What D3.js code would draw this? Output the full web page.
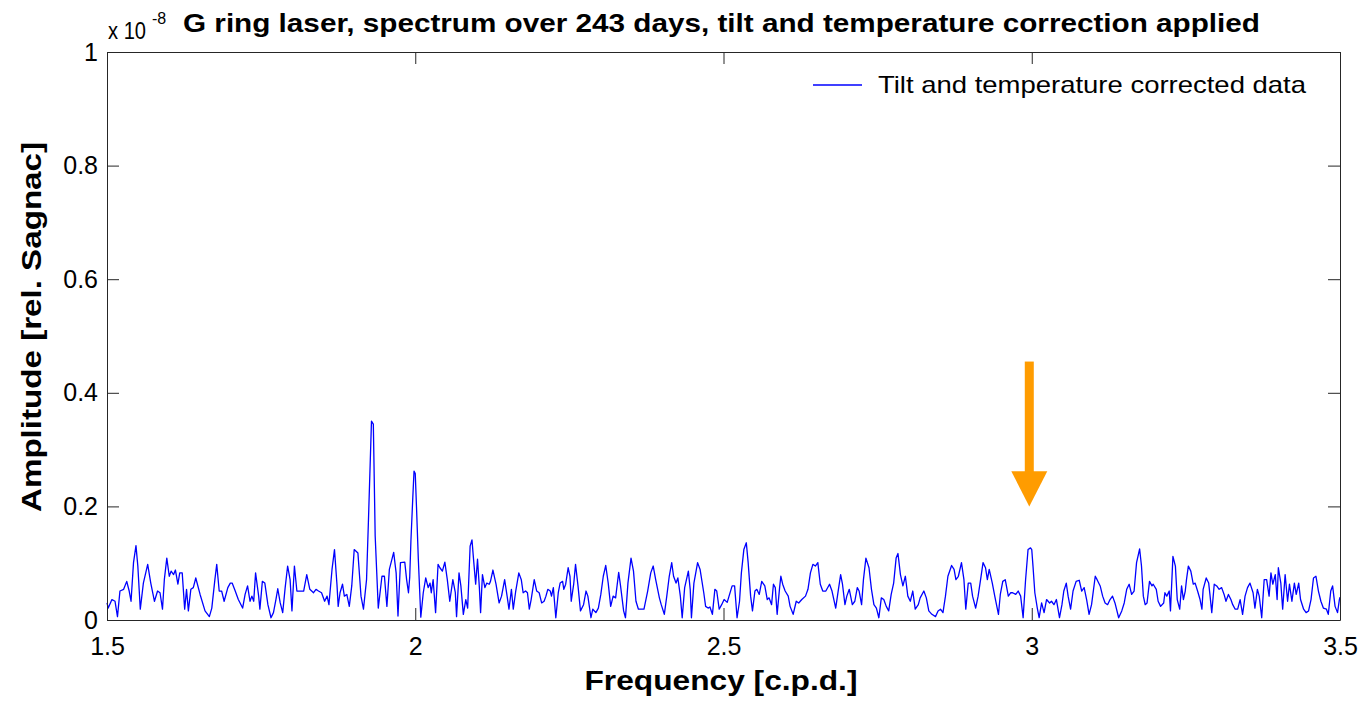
<!DOCTYPE html>
<html><head><meta charset="utf-8">
<script src="https://cdn.jsdelivr.net/npm/d3@7"></script>
<style>body{margin:0;background:#fff}svg{display:block}text{font-family:"Liberation Sans",Arial,sans-serif}</style>
</head><body><svg id="chart" width="1364" height="701"></svg>
<script>
const xTicks=[1.5,2,2.5,3,3.5];
const xTickLabels=["1.5","2","2.5","3","3.5"];
const yTicks=[0,0.2,0.4,0.6,0.8,1];
const yTickLabels=["0","0.2","0.4","0.6","0.8","1"];
const titleText="G ring laser, spectrum over 243 days, tilt and temperature correction applied";
const exponentText="x 10";
const exponentSup="-8";
const xLabel="Frequency [c.p.d.]";
const yLabel="Amplitude [rel. Sagnac]";
const legendLabel="Tilt and temperature corrected data";
// arrow annotation (frequency, amplitude from -> to)
const arrowFreq=2.996, arrowTop=0.455, arrowHead=0.262, arrowTip=0.200;
// spectrum amplitude (x 1e-8) vs frequency (c.p.d.)
const spectrum=[
[1.500,0.030],[1.502,0.021],[1.508,0.036],[1.513,0.033],[1.517,0.006],[1.521,0.051],[1.527,0.054],[1.532,0.068],[1.536,0.051],[1.539,0.033],[1.543,0.101],[1.547,0.131],[1.550,0.095],[1.554,0.019],[1.559,0.065],[1.566,0.098],[1.571,0.065],[1.577,0.033],[1.582,0.051],[1.586,0.048],[1.590,0.019],[1.593,0.071],[1.597,0.109],[1.601,0.077],[1.604,0.086],[1.608,0.080],[1.611,0.088],[1.615,0.063],[1.618,0.083],[1.622,0.083],[1.626,0.019],[1.629,0.054],[1.632,0.016],[1.636,0.054],[1.640,0.057],[1.644,0.074],[1.651,0.045],[1.659,0.016],[1.666,0.006],[1.670,0.021],[1.675,0.071],[1.678,0.098],[1.682,0.051],[1.686,0.051],[1.690,0.033],[1.696,0.057],[1.700,0.065],[1.703,0.065],[1.708,0.051],[1.713,0.036],[1.720,0.021],[1.724,0.045],[1.728,0.060],[1.732,0.033],[1.735,0.042],[1.738,0.033],[1.741,0.083],[1.746,0.042],[1.748,0.019],[1.752,0.068],[1.756,0.065],[1.761,0.027],[1.766,0.004],[1.770,0.013],[1.774,0.036],[1.777,0.055],[1.781,0.030],[1.785,0.013],[1.789,0.057],[1.793,0.095],[1.797,0.071],[1.800,0.016],[1.804,0.095],[1.808,0.051],[1.813,0.051],[1.819,0.051],[1.824,0.080],[1.829,0.054],[1.835,0.048],[1.839,0.054],[1.843,0.051],[1.848,0.048],[1.853,0.033],[1.857,0.042],[1.860,0.027],[1.865,0.089],[1.869,0.124],[1.873,0.063],[1.875,0.024],[1.878,0.048],[1.882,0.063],[1.885,0.042],[1.889,0.045],[1.893,0.024],[1.897,0.060],[1.901,0.124],[1.907,0.118],[1.912,0.042],[1.916,0.019],[1.921,0.071],[1.924,0.172],[1.929,0.350],[1.932,0.345],[1.935,0.148],[1.940,0.021],[1.946,0.077],[1.950,0.077],[1.954,0.024],[1.958,0.089],[1.965,0.119],[1.969,0.083],[1.972,0.007],[1.976,0.101],[1.983,0.102],[1.986,0.071],[1.989,0.048],[1.991,0.075],[1.993,0.140],[1.996,0.215],[1.998,0.262],[2.000,0.258],[2.002,0.200],[2.005,0.107],[2.009,0.005],
[2.013,0.048],[2.017,0.074],[2.021,0.057],[2.024,0.065],[2.026,0.048],[2.029,0.071],[2.033,0.013],[2.037,0.098],[2.040,0.092],[2.044,0.086],[2.048,0.102],[2.052,0.071],[2.056,0.033],[2.061,0.071],[2.065,0.048],[2.067,0.006],[2.071,0.083],[2.074,0.060],[2.078,0.010],[2.082,0.036],[2.085,0.021],[2.089,0.130],[2.092,0.141],[2.095,0.101],[2.098,0.063],[2.101,0.107],[2.104,0.057],[2.106,0.013],[2.109,0.080],[2.113,0.057],[2.116,0.065],[2.120,0.063],[2.122,0.068],[2.126,0.088],[2.131,0.063],[2.136,0.030],[2.140,0.042],[2.145,0.071],[2.149,0.042],[2.152,0.019],[2.156,0.054],[2.159,0.019],[2.163,0.051],[2.168,0.083],[2.172,0.071],[2.175,0.048],[2.179,0.051],[2.182,0.048],[2.185,0.019],[2.188,0.036],[2.193,0.071],[2.197,0.051],[2.201,0.048],[2.205,0.030],[2.209,0.033],[2.212,0.042],[2.215,0.054],[2.219,0.051],[2.221,0.042],[2.224,0.057],[2.228,0.004],[2.232,0.048],[2.235,0.065],[2.239,0.068],[2.241,0.054],[2.244,0.063],[2.248,0.092],[2.251,0.077],[2.253,0.033],[2.257,0.063],[2.260,0.098],[2.264,0.060],[2.268,0.016],[2.273,0.027],[2.277,0.051],[2.280,0.042],[2.285,0.004],[2.288,0.019],[2.293,0.013],[2.297,0.021],[2.301,0.045],[2.305,0.077],[2.309,0.096],[2.313,0.065],[2.317,0.024],[2.321,0.042],[2.325,0.039],[2.330,0.084],[2.333,0.060],[2.338,0.016],[2.341,0.004],[2.345,0.065],[2.350,0.109],[2.354,0.086],[2.358,0.033],[2.362,0.019],[2.366,0.019],[2.371,0.019],[2.377,0.051],[2.382,0.083],[2.386,0.095],[2.390,0.071],[2.396,0.039],[2.399,0.027],[2.404,0.010],[2.408,0.042],[2.412,0.077],[2.416,0.101],[2.419,0.077],[2.423,0.065],[2.426,0.074],[2.430,0.042],[2.433,0.004],[2.437,0.057],[2.443,0.086],[2.446,0.054],[2.448,0.004],[2.452,0.065],[2.458,0.101],[2.462,0.089],[2.468,0.048],[2.471,0.024],[2.475,0.021],[2.478,0.023],[2.482,0.010],[2.486,0.054],[2.489,0.051],[2.493,0.019],[2.497,0.027],[2.501,0.036],
[2.506,0.031],[2.509,0.042],[2.514,0.060],[2.518,0.060],[2.522,0.004],[2.526,0.033],[2.529,0.083],[2.533,0.124],[2.537,0.136],[2.540,0.101],[2.544,0.042],[2.547,0.016],[2.551,0.051],[2.554,0.054],[2.558,0.045],[2.562,0.068],[2.567,0.060],[2.571,0.036],[2.574,0.039],[2.578,0.027],[2.581,0.063],[2.584,0.057],[2.587,0.010],[2.591,0.057],[2.593,0.077],[2.596,0.063],[2.600,0.051],[2.605,0.042],[2.608,0.024],[2.613,0.010],[2.618,0.033],[2.622,0.030],[2.627,0.036],[2.633,0.042],[2.637,0.054],[2.641,0.083],[2.645,0.098],[2.649,0.095],[2.653,0.101],[2.657,0.063],[2.661,0.051],[2.666,0.051],[2.672,0.063],[2.676,0.051],[2.682,0.021],[2.686,0.051],[2.690,0.080],[2.693,0.063],[2.697,0.027],[2.700,0.042],[2.704,0.054],[2.709,0.027],[2.713,0.033],[2.717,0.057],[2.720,0.051],[2.724,0.027],[2.727,0.071],[2.731,0.109],[2.736,0.092],[2.740,0.054],[2.744,0.027],[2.748,0.021],[2.752,0.004],[2.756,0.039],[2.760,0.036],[2.764,0.024],[2.768,0.016],[2.772,0.045],[2.776,0.065],[2.780,0.109],[2.783,0.117],[2.787,0.080],[2.791,0.060],[2.795,0.077],[2.799,0.042],[2.803,0.033],[2.807,0.051],[2.811,0.019],[2.816,0.027],[2.819,0.039],[2.825,0.051],[2.829,0.039],[2.833,0.016],[2.838,0.010],[2.844,0.006],[2.848,0.016],[2.852,0.019],[2.856,0.013],[2.860,0.042],[2.864,0.077],[2.870,0.096],[2.874,0.089],[2.877,0.071],[2.881,0.077],[2.886,0.101],[2.890,0.071],[2.893,0.019],[2.897,0.065],[2.901,0.065],[2.904,0.042],[2.909,0.021],[2.913,0.042],[2.917,0.071],[2.921,0.101],[2.925,0.092],[2.928,0.071],[2.931,0.089],[2.936,0.065],[2.940,0.042],[2.946,0.010],[2.949,0.045],[2.953,0.068],[2.957,0.071],[2.962,0.042],[2.966,0.048],[2.969,0.048],[2.974,0.045],[2.978,0.051],[2.982,0.042],[2.986,0.004],[2.990,0.071],[2.994,0.124],[2.998,0.127],
[3.000,0.124],[3.002,0.095],[3.005,0.048],[3.009,0.021],[3.012,0.004],[3.016,0.030],[3.020,0.013],[3.024,0.036],[3.029,0.030],[3.032,0.033],[3.036,0.027],[3.040,0.036],[3.045,0.004],[3.049,0.027],[3.052,0.051],[3.056,0.065],[3.059,0.042],[3.063,0.019],[3.067,0.051],[3.072,0.068],[3.077,0.070],[3.081,0.051],[3.085,0.057],[3.089,0.036],[3.093,0.010],[3.097,0.027],[3.103,0.077],[3.106,0.071],[3.111,0.060],[3.115,0.042],[3.119,0.030],[3.123,0.027],[3.127,0.036],[3.131,0.042],[3.135,0.030],[3.141,0.004],[3.146,0.016],[3.150,0.030],[3.154,0.054],[3.158,0.063],[3.162,0.045],[3.166,0.051],[3.170,0.101],[3.175,0.125],[3.178,0.095],[3.181,0.042],[3.184,0.027],[3.187,0.030],[3.191,0.068],[3.195,0.060],[3.197,0.063],[3.202,0.054],[3.205,0.033],[3.209,0.024],[3.214,0.030],[3.216,0.048],[3.219,0.042],[3.223,0.051],[3.225,0.016],[3.229,0.112],[3.233,0.095],[3.236,0.036],[3.240,0.019],[3.243,0.060],[3.246,0.036],[3.249,0.051],[3.251,0.071],[3.254,0.095],[3.258,0.086],[3.262,0.063],[3.265,0.065],[3.269,0.051],[3.273,0.036],[3.276,0.019],[3.278,0.054],[3.283,0.074],[3.287,0.065],[3.289,0.045],[3.292,0.013],[3.296,0.063],[3.300,0.060],[3.304,0.054],[3.308,0.057],[3.312,0.045],[3.315,0.033],[3.319,0.045],[3.323,0.036],[3.326,0.027],[3.330,0.019],[3.334,0.019],[3.338,0.036],[3.342,0.010],[3.346,0.042],[3.350,0.057],[3.354,0.065],[3.359,0.048],[3.362,0.021],[3.366,0.054],[3.369,0.042],[3.373,0.004],[3.377,0.071],[3.381,0.071],[3.385,0.042],[3.388,0.083],[3.391,0.063],[3.395,0.080],[3.398,0.036],[3.400,0.092],[3.404,0.065],[3.407,0.019],[3.411,0.080],[3.415,0.033],[3.418,0.063],[3.422,0.033],[3.426,0.065],[3.429,0.045],[3.433,0.065],[3.436,0.036],[3.441,0.019],[3.445,0.013],[3.449,0.016],[3.453,0.036],[3.457,0.074],[3.461,0.077],[3.465,0.051],[3.469,0.033],[3.473,0.021],[3.478,0.019],[3.481,0.010],[3.485,0.051],[3.488,0.060],[3.492,0.024],[3.496,0.013],[3.499,0.036],[3.500,0.040]
];

const svg=d3.select("#chart");
const W=1364,H=701;
const mLeft=107,mRight=1340,mTop=52,mBottom=620;
const x=d3.scaleLinear().domain([1.5,3.5]).range([mLeft,mRight]);
const y=d3.scaleLinear().domain([0,1]).range([mBottom,mTop]);
const FONT="Liberation Sans, Arial, sans-serif";
const AX="#262626";

svg.append("rect").attr("width",W).attr("height",H).attr("fill","#fff");

// spectrum line
const line=d3.line().x(d=>x(d[0])).y(d=>y(d[1]));
svg.append("path").datum(spectrum).attr("d",line)
  .attr("fill","none").attr("stroke","#0000ff").attr("stroke-width",1.3).attr("stroke-linejoin","round");

function styleAxis(g,size){
  g.attr("font-family",FONT).attr("font-size",size);
  g.select(".domain").attr("stroke",AX).attr("stroke-width",1);
  g.selectAll(".tick line").attr("stroke",AX).attr("stroke-width",1);
  g.selectAll(".tick text").attr("fill","#000");
}
const gB=svg.append("g").attr("transform",`translate(0,${mBottom})`)
  .call(d3.axisBottom(x).tickValues(xTicks).tickFormat((d,i)=>xTickLabels[i]).tickSizeInner(-12).tickSizeOuter(0).tickPadding(17));
styleAxis(gB,25);
const gT=svg.append("g").attr("transform",`translate(0,${mTop})`)
  .call(d3.axisTop(x).tickValues(xTicks).tickFormat("").tickSizeInner(-12).tickSizeOuter(0));
styleAxis(gT,25);
const gL=svg.append("g").attr("transform",`translate(${mLeft},0)`)
  .call(d3.axisLeft(y).tickValues(yTicks).tickFormat((d,i)=>yTickLabels[i]).tickSizeInner(-12).tickSizeOuter(0).tickPadding(9));
styleAxis(gL,25);
const gR=svg.append("g").attr("transform",`translate(${mRight},0)`)
  .call(d3.axisRight(y).tickValues(yTicks).tickFormat("").tickSizeInner(-12).tickSizeOuter(0));
styleAxis(gR,25);

// arrow annotation
const ax=x(arrowFreq);
svg.append("rect").attr("x",ax-4.5).attr("y",y(arrowTop)).attr("width",9).attr("height",y(arrowHead)-y(arrowTop)+1).attr("fill","#ff9c00");
svg.append("path").attr("d",`M${ax-18},${y(arrowHead)}L${ax+18},${y(arrowHead)}L${ax},${y(arrowTip)}Z`).attr("fill","#ff9c00");

// legend
svg.append("line").attr("x1",813).attr("x2",862).attr("y1",85).attr("y2",85).attr("stroke","#0000ff").attr("stroke-width",1.3);
svg.append("text").attr("x",878).attr("y",93).attr("font-size",24).attr("textLength",428).attr("lengthAdjust","spacingAndGlyphs").text(legendLabel);

// title
svg.append("text").attr("x",108).attr("y",39).attr("font-size",24).attr("textLength",38).attr("lengthAdjust","spacingAndGlyphs").text(exponentText);
svg.append("text").attr("x",152).attr("y",24).attr("font-size",16).text(exponentSup);
svg.append("text").attr("x",183).attr("y",32).attr("font-size",25).attr("font-weight","bold").attr("textLength",1077).attr("lengthAdjust","spacingAndGlyphs").text(titleText);

// axis labels
svg.append("text").attr("x",721).attr("y",690).attr("text-anchor","middle").attr("font-size",28).attr("font-weight","bold").attr("textLength",273).attr("lengthAdjust","spacingAndGlyphs").text(xLabel);
svg.append("text").attr("transform","translate(41,327) rotate(-90)").attr("text-anchor","middle").attr("font-size",28).attr("font-weight","bold").attr("textLength",370).attr("lengthAdjust","spacingAndGlyphs").text(yLabel);
</script></body></html>
